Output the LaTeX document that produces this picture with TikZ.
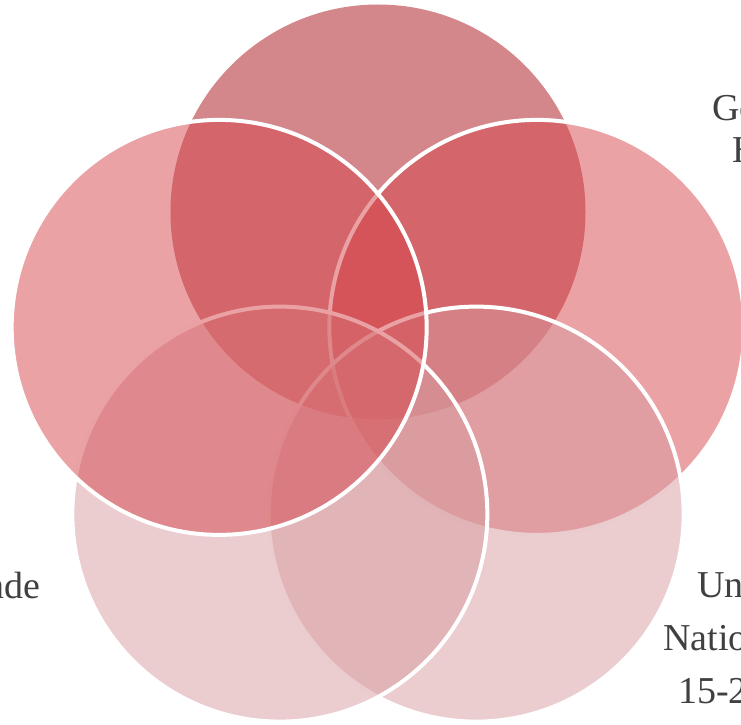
\documentclass[tikz,border=0pt]{standalone}
\usepackage{fontspec}
\setmainfont{Liberation Serif}
\definecolor{topred}{RGB}{212,135,138}
\definecolor{sidered}{RGB}{213,69,75}
\definecolor{lowpink}{RGB}{215,155,159}
\definecolor{labelgray}{RGB}{64,64,64}
\tikzset{
  petal/.style={draw=white, line width=4pt, fill opacity=0.5},
  lbl/.style={inner sep=0pt, text=labelgray, font=\fontsize{38}{46}\selectfont}
}
\begin{document}
\begin{tikzpicture}[x=1pt,y=1pt]
    \useasboundingbox (0,0) rectangle (741,724);
    \coordinate (mid) at (378,345);

    % five circles, top one first
    \fill[topred] ([shift={(90:167)}]mid) circle (207.5pt);
    \filldraw[petal, fill=sidered] ([shift={(18:167)}]mid) circle (207.5pt);
    \filldraw[petal, fill=lowpink] ([shift={(306:167)}]mid) circle (207.5pt);
    \filldraw[petal, fill=lowpink] ([shift={(234:167)}]mid) circle (207.5pt);
    \filldraw[petal, fill=sidered] ([shift={(162:167)}]mid) circle (207.5pt);

    % labels, cut by the frame
    \node[lbl, anchor=base west] (gotext) at (712,603) {Go};
    \node[lbl, anchor=base west] (htext) at (732,561) {H};
    \node[lbl, anchor=base east] (ndetext) at (40.5,126) {nde};
    \node[lbl, anchor=base west] (untext) at (697,127) {Un};
    \node[lbl, anchor=base west] (natiotext) at (663,74) {Natio};
    \node[lbl, anchor=base west] (numtext) at (678,21) {15-2};
\end{tikzpicture}
\end{document}
